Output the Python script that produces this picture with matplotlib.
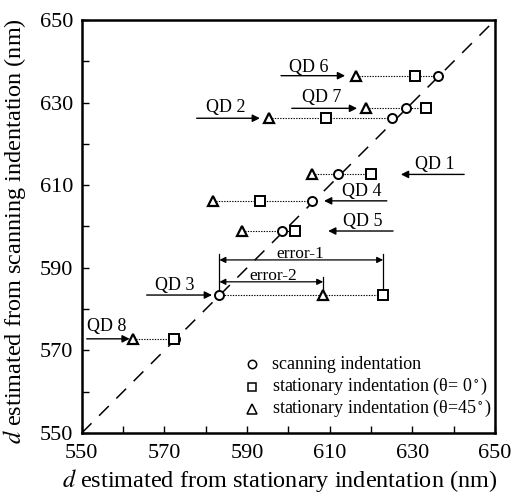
import numpy as np
import matplotlib
matplotlib.use("Agg")
import matplotlib.pyplot as plt

plt.rcParams['font.family'] = ['Liberation Serif', 'DejaVu Serif']
plt.rcParams['mathtext.fontset'] = 'stix'

# QD order: 1..8
qd_names = ["QD 1", "QD 2", "QD 3", "QD 4", "QD 5", "QD 6", "QD 7", "QD 8"]
d_scan = [612.6, 626.2, 583.4, 606.2, 598.9, 636.5, 628.6, 572.8]     # y values
x_circle = [612.0, 625.1, 583.3, 605.7, 598.4, 636.2, 628.5, 572.5]
x_square = [620.0, 609.1, 622.9, 593.1, 601.6, 630.6, 633.3, 572.3]
x_tri = [605.7, 595.3, 608.4, 581.7, 588.7, 616.3, 618.8, 562.4]

# label text position (left x, center y) and arrow start/end x
lab_xy = [(630.6, 615.1), (580.0, 628.7), (567.7, 585.6), (613.0, 608.4),
          (613.2, 601.1), (600.1, 638.6), (603.3, 631.1), (551.2, 575.7)]
arr_from = [642.5, 577.8, 565.7, 623.8, 625.3, 598.2, 600.8, 551.2]
arr_to = [627.2, 593.1, 581.5, 608.6, 609.6, 613.7, 616.6, 561.6]

fig = plt.figure(figsize=(5.11, 4.98), dpi=100)
ax = fig.add_axes([0.160, 0.1305, 0.809, 0.8295])

ax.plot([550, 650], [550, 650], color='black', lw=1.1, dashes=(9, 7))

for i in range(len(qd_names)):
    xs = [x_tri[i], x_square[i], x_circle[i]]
    ax.plot([min(xs), max(xs)], [d_scan[i], d_scan[i]], color='black', lw=0.8, ls=(0, (1.2, 1.2)), zorder=2)

ax.plot(x_circle, d_scan, 'o', mfc='white', mec='black', mew=1.4, ms=6.5, ls='none', zorder=3)
ax.plot(x_square, d_scan, 's', mfc='white', mec='black', mew=1.4, ms=6.5, ls='none', zorder=3)
ax.plot(x_tri, d_scan, '^', mfc='white', mec='black', mew=1.6, ms=7.5, ls='none', zorder=3)

for i, name in enumerate(qd_names):
    ax.text(lab_xy[i][0], lab_xy[i][1], name, fontsize=13, ha='left', va='center')
    ax.annotate('', xy=(arr_to[i], d_scan[i]), xytext=(arr_from[i], d_scan[i]),
                arrowprops=dict(arrowstyle='-|>', color='black', lw=1.0, mutation_scale=11, shrinkA=0, shrinkB=0))

# error bars for QD 3
y3 = d_scan[2]
ax.plot([x_circle[2], x_circle[2]], [y3, 593.3], color='black', lw=0.9)
ax.plot([x_square[2], x_square[2]], [y3 + 1, 593.3], color='black', lw=0.9)
ax.plot([x_tri[2], x_tri[2]], [y3 + 1.5, 587.8], color='black', lw=0.9)
ax.annotate('', xy=(x_square[2], 591.9), xytext=(x_circle[2], 591.9),
            arrowprops=dict(arrowstyle='<|-|>', color='black', lw=0.9, mutation_scale=9, shrinkA=0, shrinkB=0))
ax.annotate('', xy=(x_tri[2], 586.6), xytext=(x_circle[2], 586.6),
            arrowprops=dict(arrowstyle='<|-|>', color='black', lw=0.9, mutation_scale=9, shrinkA=0, shrinkB=0))
ax.text(602.8, 593.3, 'error-1', fontsize=12.5, ha='center', va='center')
ax.text(596.2, 588.0, 'error-2', fontsize=12.5, ha='center', va='center')

# legend
leg_y = [566.7, 561.2, 555.9]
ax.plot(591.3, leg_y[0], 'o', mfc='white', mec='black', mew=1.1, ms=6, ls='none')
ax.plot(591.3, leg_y[1], 's', mfc='white', mec='black', mew=1.1, ms=6, ls='none')
ax.plot(591.3, leg_y[2], '^', mfc='white', mec='black', mew=1.1, ms=6.5, ls='none')
ax.text(596.0, leg_y[0], 'scanning indentation', fontsize=13, va='center')
ax.text(596.0, leg_y[1], 'stationary indentation (\u03b8= 0$^\\circ$)', fontsize=13, va='center')
ax.text(596.0, leg_y[2], 'stationary indentation (\u03b8=45$^\\circ$)', fontsize=13, va='center')

ax.set_xlim(550, 650)
ax.set_ylim(550, 650)
ax.set_xticks(np.arange(550, 651, 20))
ax.set_yticks(np.arange(550, 651, 20))
ax.set_xticks(np.arange(560, 650, 20), minor=True)
ax.set_yticks(np.arange(560, 650, 20), minor=True)
ax.tick_params(which='both', direction='in', length=5, width=1, labelsize=16, top=False, right=False)
ax.tick_params(axis='x', pad=8)
ax.tick_params(axis='y', pad=6)
for s in ax.spines.values():
    s.set_linewidth(1.8)

ax.set_xlabel('$d$ estimated from stationary indentation (nm)', fontsize=17.5, va='center')
ax.set_ylabel('$d$ estimated from scanning indentation (nm)', fontsize=17.5, va='center')
ax.xaxis.set_label_coords(0.478, -0.114)
ax.yaxis.set_label_coords(-0.162, 0.49)

fig.savefig('out.png', dpi=100)
